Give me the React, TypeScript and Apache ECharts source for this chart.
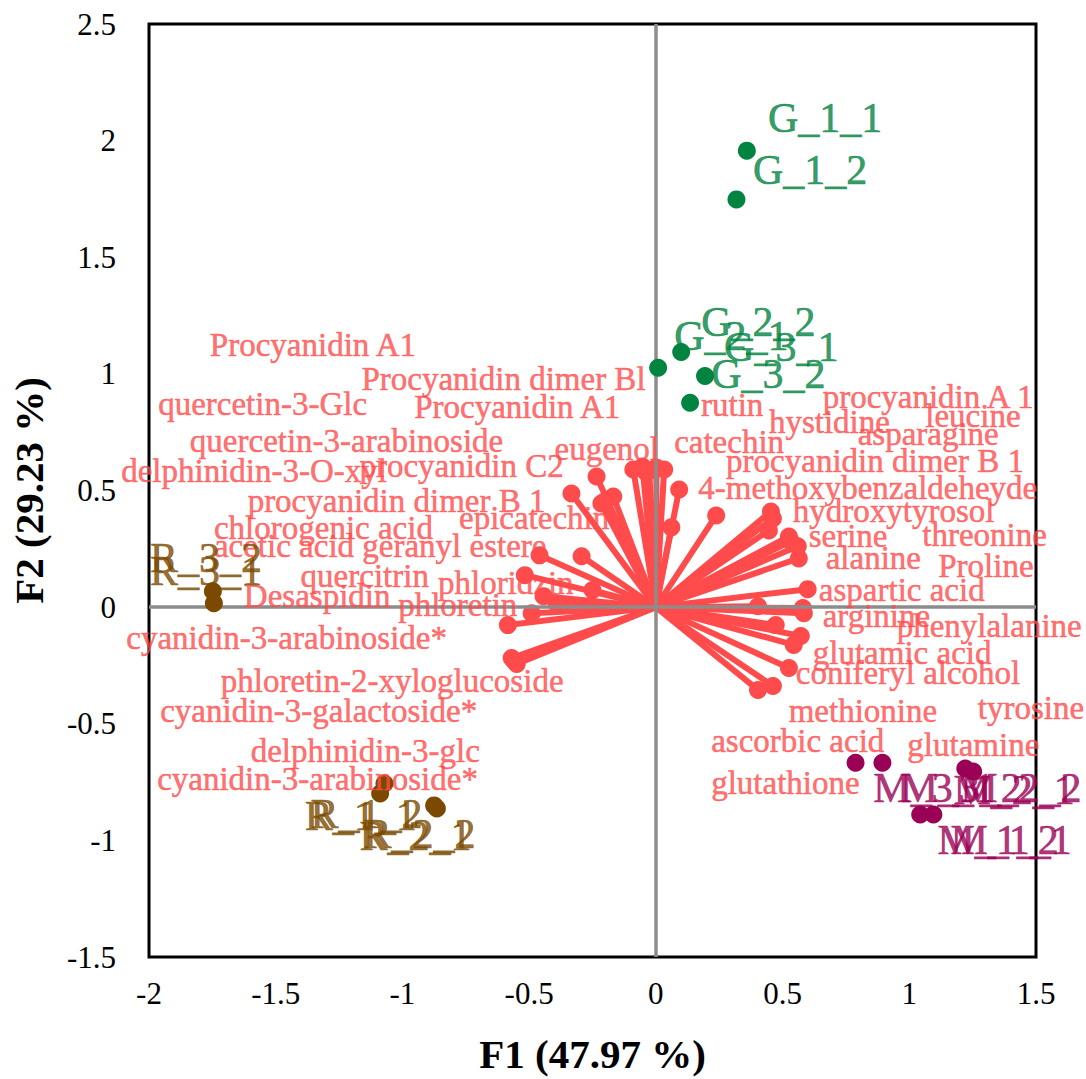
import React, { useEffect, useRef } from "react";
import * as echarts from "echarts";

const FONT = '"Liberation Serif", "Times New Roman", serif';
const RED = "#FF4B4B";
const GROUP_COLORS: Record<string, string> = { G: "#00843F", R: "#7B4A00", M: "#9B0057" };

// Variables (arrow tips on F1/F2) and their label anchors
const varNames = [
  "Procyanidin A1", "Procyanidin dimer Bl", "quercetin-3-Glc", "Procyanidin A1",
  "quercetin-3-arabinoside", "eugenol", "delphinidin-3-O-xyl", "procyanidin C2",
  "procyanidin dimer B 1", "epicatechin", "chlorogenic acid", "acetic acid geranyl estere",
  "quercitrin", "phloridzin", "Desaspidin", "phloretin",
  "cyanidin-3-arabinoside*", "phloretin-2-xyloglucoside", "cyanidin-3-galactoside*", "delphinidin-3-glc",
  "cyanidin-3-arabinoside*", "rutin", "procyanidin A 1", "leucine",
  "hystidine", "asparagine", "catechin", "procyanidin dimer B 1",
  "4-methoxybenzaldeheyde", "hydroxytyrosol", "serine", "threonine",
  "alanine", "Proline", "aspartic acid", "arginine",
  "phenylalanine", "glutamic acid", "coniferyl alcohol", "methionine",
  "tyrosine", "ascorbic acid", "glutamine", "glutathione",
];
const varF1 = [
  -0.333, -0.234, -0.459, -0.168,
  -0.293, -0.089, -0.517, -0.203,
  -0.215, -0.053, -0.25, -0.443,
  -0.392, -0.364, -0.49, -0.584,
  -0.569, -0.549, -0.56, -0.026,
  -0.038, 0.002, 0.033, 0.454,
  -0.006, 0.462, 0.092, 0.061,
  0.238, 0.446, 0.525, 0.532,
  0.56, 0.564, 0.599, 0.403,
  0.58, 0.584, 0.473, 0.572,
  0.544, 0.403, 0.525, 0.462,
];
const varF2 = [
  0.487, 0.56, 0.222, 0.474,
  0.218, 0.59, 0.137, 0.453,
  0.444, 0.603, 0.073, 0.047,
  0.017, 0.009, -0.026, -0.077,
  -0.218, -0.244, -0.23, 0.585,
  0.577, 0.598, 0.59, 0.41,
  0.393, 0.38, 0.504, 0.342,
  0.393, 0.329, 0.303, 0.282,
  0.261, 0.209, 0.077, 0.004,
  -0.004, -0.026, -0.077, -0.124,
  -0.162, -0.355, -0.261, -0.338,
];
const varLabelF1 = [
  -1.76, -1.162, -1.964, -0.954,
  -1.839, -0.4, -2.11, -1.17,
  -1.611, -0.777, -1.744, -1.744,
  -1.402, -0.86, -1.626, -1.017,
  -2.09, -1.717, -1.956, -1.599,
  -1.968, 0.178, 0.658, 1.063,
  0.446, 0.796, 0.072, 0.277,
  0.167, 0.54, 0.603, 1.051,
  0.67, 1.114, 0.643, 0.658,
  0.95, 0.619, 0.552, 0.524,
  1.27, 0.218, 0.992, 0.218,
];
const varLabelF2 = [
  1.124, 0.979, 0.872, 0.859,
  0.714, 0.679, 0.585, 0.603,
  0.457, 0.38, 0.338, 0.261,
  0.132, 0.103, 0.047, 0.009,
  -0.132, -0.316, -0.444, -0.615,
  -0.739, 0.868, 0.902, 0.821,
  0.795, 0.744, 0.709, 0.628,
  0.509, 0.41, 0.303, 0.308,
  0.209, 0.175, 0.073, -0.038,
  -0.081, -0.197, -0.282, -0.444,
  -0.432, -0.573, -0.59, -0.752,
];

// Observations
const obsNames = [
  "G_1_1", "G_1_2", "G_2_1", "G_2_2", "G_3_1", "G_3_2",
  "R_1_1", "R_1_2", "R_2_1", "R_2_2", "R_3_1", "R_3_2",
  "M_1_1", "M_1_2", "M_2_1", "M_2_2", "M_3_1", "M_3_2",
];
const obsF1 = [
  0.359, 0.318, 0.009, 0.1, 0.194, 0.135,
  -1.071, -1.088, -0.875, -0.864, -1.744, -1.748,
  1.043, 1.095, 1.221, 1.252, 0.788, 0.894,
];
const obsF2 = [
  1.957, 1.748, 1.026, 1.094, 0.991, 0.876,
  -0.756, -0.799, -0.85, -0.863, 0.017, 0.068,
  -0.889, -0.889, -0.692, -0.705, -0.667, -0.667,
];
const obsLabelF1 = [
  0.442, 0.383, 0.072, 0.179, 0.269, 0.218,
  -1.386, -1.363, -1.17, -1.154, -1.996, -1.996,
  1.162, 1.111, 1.174, 1.201, 0.858, 0.965,
];
const obsLabelF2 = [
  2.098, 1.876, 1.162, 1.222, 1.115, 1.0,
  -0.897, -0.889, -0.983, -0.974, 0.154, 0.209,
  -1.0, -1.0, -0.782, -0.774, -0.774, -0.774,
];

const groups = ["G", "R", "M"];

export default function App() {
  const ref = useRef<HTMLDivElement>(null);
  useEffect(() => {
    if (!ref.current) return;
    const chart = echarts.init(ref.current, undefined, { renderer: "svg" });

    const obsSeries: any[] = [];
    groups.forEach((g) => {
      const idx = obsNames.map((n, i) => i).filter((i) => obsNames[i][0] === g);
      obsSeries.push({
        type: "scatter",
        name: g + " points",
        symbolSize: 18,
        z: 5,
        itemStyle: { color: GROUP_COLORS[g], opacity: 1 },
        data: idx.map((i) => ({ name: obsNames[i], value: [obsF1[i], obsF2[i]] })),
      });
      obsSeries.push({
        type: "scatter",
        name: g + " labels",
        symbolSize: 0.1,
        clip: false,
        z: 7,
        itemStyle: { color: "transparent" },
        label: {
          show: true,
          position: "right",
          distance: 0,
          formatter: "{b}",
          fontFamily: FONT,
          fontSize: 42,
          color: GROUP_COLORS[g],
          textBorderColor: GROUP_COLORS[g],
          textBorderWidth: 0.6,
        },
        data: idx.map((i) => ({ name: obsNames[i], value: [obsLabelF1[i], obsLabelF2[i]] })),
      });
    });

    chart.setOption({
      animation: false,
      grid: {
        left: 146,
        top: 24,
        width: 890,
        height: 936,
        show: true,
        borderColor: "#000",
        borderWidth: 3,
        backgroundColor: "transparent",
      },
      xAxis: {
        type: "value",
        min: -2,
        max: 1.5,
        interval: 0.5,
        axisLine: { show: false },
        axisTick: { show: false },
        splitLine: { show: false },
        axisLabel: { fontFamily: FONT, fontSize: 31, color: "#000", margin: 21 },
        name: "F1 (47.97 %)",
        nameLocation: "middle",
        nameGap: 76,
        nameTextStyle: { fontFamily: FONT, fontSize: 41, fontWeight: "bold", color: "#000" },
      },
      yAxis: {
        type: "value",
        min: -1.5,
        max: 2.5,
        interval: 0.5,
        axisLine: { show: false },
        axisTick: { show: false },
        splitLine: { show: false },
        axisLabel: { fontFamily: FONT, fontSize: 31, color: "#000", margin: 33 },
        name: "F2 (29.23 %)",
        nameLocation: "middle",
        nameGap: 100,
        nameTextStyle: { fontFamily: FONT, fontSize: 41, fontWeight: "bold", color: "#000" },
      },
      series: [
        {
          type: "scatter",
          name: "zero",
          data: [],
          z: 1,
          markLine: {
            silent: true,
            symbol: "none",
            label: { show: false },
            lineStyle: { color: "#8C8C8C", width: 3.5, type: "solid" },
            data: [{ xAxis: 0 }, { yAxis: 0 }],
          },
        },
        {
          type: "lines",
          coordinateSystem: "cartesian2d",
          z: 3,
          lineStyle: { color: RED, width: 6, opacity: 1 },
          data: varNames.map((n, i) => ({ name: n, coords: [[0, 0], [varF1[i], varF2[i]]] })),
        },
        {
          type: "scatter",
          name: "variables",
          symbolSize: 18,
          z: 4,
          itemStyle: { color: RED, opacity: 1 },
          data: varNames.map((n, i) => ({ name: n, value: [varF1[i], varF2[i]] })),
        },
        {
          type: "scatter",
          name: "variable labels",
          symbolSize: 0.1,
          clip: false,
          z: 6,
          itemStyle: { color: "transparent" },
          label: {
            show: true,
            position: "right",
            distance: 0,
            formatter: "{b}",
            fontFamily: FONT,
            fontSize: 33,
            color: RED,
            textBorderColor: RED,
            textBorderWidth: 0.5,
          },
          data: varNames.map((n, i) => ({ name: n, value: [varLabelF1[i], varLabelF2[i]] })),
        },
        ...obsSeries,
      ],
    });
    return () => chart.dispose();
  }, []);
  return (
    <div
      ref={ref}
      style={{ position: "absolute", left: 0, top: 0, width: 1086, height: 1079 }}
    />
  );
}
